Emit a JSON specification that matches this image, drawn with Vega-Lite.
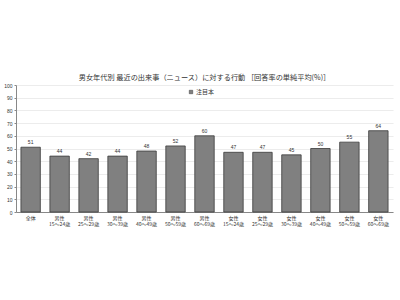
{
  "$schema": "https://vega.github.io/schema/vega-lite/v6.json",
  "autosize": {"type": "none"},
  "width": 377,
  "height": 127,
  "padding": {"left": 16, "top": 85, "right": 7, "bottom": 88},
  "background": "white",
  "title": {
    "text": "男女年代別 最近の出来事（ニュース）に対する行動 ［回答率の単純平均(%)］",
    "font": "Noto Sans CJK JP",
    "fontSize": 7.2,
    "fontWeight": "normal",
    "color": "#333333",
    "offset": 2,
    "frame": "group"
  },
  "data": {
    "values": [
      {"cat": "全体", "value": 51, "series": "注目本"},
      {"cat": "男性|15～24歳", "value": 44, "series": "注目本"},
      {"cat": "男性|25～29歳", "value": 42, "series": "注目本"},
      {"cat": "男性|30～39歳", "value": 44, "series": "注目本"},
      {"cat": "男性|40～49歳", "value": 48, "series": "注目本"},
      {"cat": "男性|50～59歳", "value": 52, "series": "注目本"},
      {"cat": "男性|60～69歳", "value": 60, "series": "注目本"},
      {"cat": "女性|15～24歳", "value": 47, "series": "注目本"},
      {"cat": "女性|25～29歳", "value": 47, "series": "注目本"},
      {"cat": "女性|30～39歳", "value": 45, "series": "注目本"},
      {"cat": "女性|40～49歳", "value": 50, "series": "注目本"},
      {"cat": "女性|50～59歳", "value": 55, "series": "注目本"},
      {"cat": "女性|60～69歳", "value": 64, "series": "注目本"}
    ]
  },
  "encoding": {
    "x": {
      "field": "cat",
      "type": "nominal",
      "sort": null,
      "scale": {"paddingInner": 0.33, "paddingOuter": 0.17},
      "axis": {
        "title": null,
        "labelAngle": 0,
        "labelExpr": "split(datum.value, '|')",
        "labelFont": "Noto Sans CJK JP",
        "labelFontSize": 5,
        "labelColor": "#333333",
        "labelLineHeight": 6,
        "labelPadding": 3,
        "ticks": false,
        "domainColor": "#888888",
        "grid": false
      }
    },
    "y": {
      "field": "value",
      "type": "quantitative",
      "scale": {"domain": [0, 100]},
      "axis": {
        "title": null,
        "values": [0, 10, 20, 30, 40, 50, 60, 70, 80, 90, 100],
        "labelFont": "Liberation Sans",
        "labelFontSize": 5,
        "labelColor": "#333333",
        "labelPadding": 2,
        "tickSize": 2,
        "tickColor": "#888888",
        "domainColor": "#888888",
        "gridColor": "#e4e4e4",
        "gridWidth": 0.7
      }
    }
  },
  "layer": [
    {
      "mark": {"type": "bar", "stroke": "#3a3a3a", "strokeWidth": 0.8},
      "encoding": {
        "color": {
          "field": "series",
          "type": "nominal",
          "scale": {"range": ["#808080"]},
          "legend": {
            "title": null,
            "orient": "none",
            "legendX": 172,
            "legendY": 4,
            "symbolType": "square",
            "symbolSize": 12,
            "symbolStrokeColor": "#3a3a3a",
            "symbolStrokeWidth": 0.5,
            "labelFont": "Noto Sans CJK JP",
            "labelFontSize": 6,
            "labelColor": "#333333",
            "labelOffset": 2
          }
        }
      }
    },
    {
      "mark": {"type": "text", "dy": -5, "font": "Liberation Sans", "fontSize": 5, "fill": "#333333"},
      "encoding": {"text": {"field": "value", "type": "quantitative"}}
    }
  ],
  "config": {"view": {"stroke": null}}
}
